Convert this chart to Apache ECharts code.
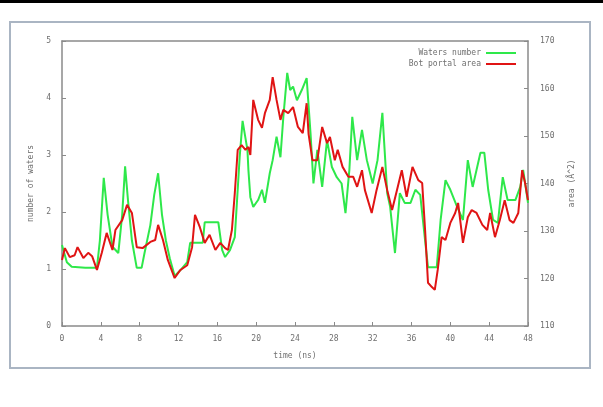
<!DOCTYPE html>
<html>
<head>
<meta charset="utf-8">
<script src="https://cdn.jsdelivr.net/npm/echarts@6/dist/echarts.min.js"></script>
<style>
  html, body { margin: 0; padding: 0; background: #fff; }
  #chart { width: 603px; height: 407px; }
</style>
</head>
<body>
<div id="chart"></div>
<script>
// time (ns) and number of waters
const greenTime = [0, 0.2, 0.5, 1.0, 2.4, 3.6, 3.9, 4.3, 4.7, 5.2, 5.8, 6.2, 6.5, 6.8, 7.2, 7.7, 8.2, 8.5, 9.1, 9.5, 9.9,
  10.3, 10.7, 11.1, 11.6, 12.2, 12.9, 13.2, 14.5, 14.7, 16.1, 16.5, 16.8, 17.3, 17.8, 18.3, 18.6, 19.1, 19.2, 19.4, 19.7,
  20.2, 20.6, 20.9, 21.4, 21.7, 22.1, 22.5, 22.8, 23.2, 23.5, 23.8, 24.2, 24.7, 25.2, 25.6, 25.9, 26.3, 26.8, 27.3, 27.8,
  28.3, 28.8, 29.2, 29.6, 29.9, 30.4, 30.9, 31.4, 32.0, 32.5, 33.0, 33.5, 33.8, 34.3, 34.8, 35.3, 35.9, 36.4, 36.9, 37.4,
  37.7, 38.6, 39.0, 39.5, 40.0, 40.7, 41.3, 41.8, 42.3, 43.1, 43.5, 43.9, 44.4, 44.9, 45.4, 45.9, 46.7, 47.2, 47.5, 48];
const greenWaters = [1.42, 1.30, 1.12, 1.04, 1.02, 1.02, 1.5, 2.6, 1.95, 1.39, 1.28, 1.95, 2.8, 2.2, 1.5, 1.02, 1.02, 1.28, 1.77, 2.3, 2.68,
  1.95, 1.5, 1.19, 0.88, 0.98, 1.12, 1.46, 1.46, 1.82, 1.82, 1.33, 1.21, 1.33, 1.56, 2.96, 3.6, 3.09, 2.74, 2.26, 2.09,
  2.21, 2.39, 2.16, 2.68, 2.91, 3.32, 2.96, 3.67, 4.44, 4.14, 4.2, 3.96, 4.14, 4.35, 3.38, 2.5, 3.09, 2.44, 3.26, 2.79,
  2.61, 2.5, 1.98, 2.74, 3.67, 2.91, 3.44, 2.91, 2.5, 2.91, 3.74, 2.33, 2.09, 1.28, 2.33, 2.16, 2.16, 2.39, 2.3, 1.5,
  1.03, 1.03, 1.86, 2.56, 2.39, 2.09, 1.86, 2.91, 2.44, 3.04, 3.04, 2.39, 1.86, 1.81, 2.61, 2.21, 2.21, 2.44, 2.74, 2.16];

// time (ns) and bottom portal area (A^2)
const redTime = [0, 0.3, 0.8, 1.3, 1.6, 2.2, 2.7, 3.1, 3.6, 4.1, 4.6, 5.2, 5.5, 6.2, 6.7, 7.2, 7.7, 8.3, 9.1, 9.6, 9.9,
  10.4, 10.9, 11.6, 12.2, 12.9, 13.4, 13.7, 14.2, 14.7, 15.2, 15.8, 16.3, 16.8, 17.1, 17.5, 17.8, 18.1, 18.5, 18.9, 19.2,
  19.4, 19.7, 20.2, 20.6, 20.9, 21.4, 21.7, 22.1, 22.5, 22.8, 23.3, 23.8, 24.3, 24.8, 25.2, 25.4, 25.8, 26.3, 26.8, 27.3,
  27.6, 28.1, 28.4, 28.9, 29.5, 30.0, 30.4, 30.9, 31.2, 31.9, 32.4, 33.0, 33.5, 34.0, 34.5, 35.0, 35.5, 36.1, 36.7, 37.1,
  37.4, 37.7, 38.1, 38.4, 38.7, 39.1, 39.5, 40.0, 40.5, 40.8, 41.3, 41.8, 42.2, 42.7, 43.3, 43.8, 44.1, 44.6, 45.1, 45.6,
  46.1, 46.5, 47.0, 47.4, 47.7, 48];
const redArea = [123.9, 126.4, 124.5, 124.9, 126.6, 124.3, 125.4, 124.7, 121.8, 125.4, 129.6, 126.0, 130.2, 132.3, 135.5, 133.8, 126.6, 126.4, 127.7, 128.1, 131.3,
  128.1, 123.9, 120.1, 121.8, 122.8, 126.6, 133.4, 130.8, 127.5, 129.2, 126.0, 127.5, 126.4, 126.0, 130.2, 138.0, 147.1, 148.1, 147.1, 147.7,
  146.0, 157.6, 153.4, 151.7, 154.8, 157.6, 162.4, 157.6, 153.4, 155.5, 154.8, 156.1, 151.9, 150.6, 156.9, 150.4, 144.9, 144.9, 151.9, 148.5,
  149.8, 144.9, 147.1, 143.5, 141.4, 141.4, 139.3, 142.8, 138.6, 133.8, 138.6, 143.5, 138.6, 134.4, 138.6, 142.8, 137.2, 143.5, 140.7, 140.1,
  130.2, 119.1, 118.2, 117.6, 121.8, 128.7, 128.1, 131.7, 133.8, 135.9, 127.5, 132.9, 134.4, 133.8, 131.3, 130.2, 133.8, 128.7, 132.3, 136.5,
  132.3, 131.7, 133.8, 142.8, 140.1, 136.5];

const leftTicks = [0, 5, 1];
const rightTicks = [110, 170, 10];
const timeTicks = [0, 48, 4];

const chart = echarts.init(document.getElementById('chart'), null, { renderer: 'canvas' });

const font = 'DejaVu Sans Mono';
const textGrey = '#6f6f6f';
const axisGrey = '#8a8a8a';

chart.setOption({
  animation: false,
  backgroundColor: '#fff',
  graphic: [
    { type: 'rect', shape: { x: 0, y: 0, width: 603, height: 3 }, style: { fill: '#000' } },
    { type: 'rect', shape: { x: 10, y: 22, width: 580, height: 346 }, style: { fill: 'none', stroke: '#aab5c3', lineWidth: 2 } },
  ],
  grid: { left: 62, right: 75, top: 41, bottom: 81 },
  legend: {
    orient: 'vertical',
    right: 82,
    top: 44,
    align: 'right',
    itemGap: 3,
    itemWidth: 30,
    itemHeight: 2,
    icon: 'rect',
    textStyle: { fontFamily: font, fontSize: 8, color: textGrey, padding: [0, 0, 0, 0] },
    data: ['Waters number', 'Bot portal area'],
  },
  xAxis: [
    {
      type: 'value',
      min: timeTicks[0],
      max: timeTicks[1],
      interval: timeTicks[2],
      name: 'time (ns)',
      nameLocation: 'middle',
      nameGap: 26,
      nameTextStyle: { fontFamily: font, fontSize: 8, color: textGrey },
      axisLine: { onZero: false, lineStyle: { color: axisGrey, width: 1.5 } },
      axisTick: { inside: true, length: 4, lineStyle: { color: axisGrey } },
      axisLabel: { fontFamily: font, fontSize: 8, color: textGrey, margin: 9 },
      splitLine: { show: false },
    },
    {
      type: 'value',
      position: 'top',
      min: timeTicks[0],
      max: timeTicks[1],
      interval: timeTicks[2],
      axisLine: { onZero: false, lineStyle: { color: axisGrey, width: 1.5 } },
      axisTick: { show: false },
      axisLabel: { show: false },
      splitLine: { show: false },
    },
  ],
  yAxis: [
    {
      type: 'value',
      min: leftTicks[0],
      max: leftTicks[1],
      interval: leftTicks[2],
      name: 'number of waters',
      nameLocation: 'middle',
      nameRotate: 90,
      nameGap: 26,
      nameTextStyle: { fontFamily: font, fontSize: 8, color: textGrey },
      axisLine: { show: true, onZero: false, lineStyle: { color: axisGrey, width: 1.5 } },
      axisTick: { show: true, inside: true, length: 4, lineStyle: { color: axisGrey } },
      axisLabel: { fontFamily: font, fontSize: 8, color: textGrey, margin: 11 },
      splitLine: { show: false },
    },
    {
      type: 'value',
      position: 'right',
      min: rightTicks[0],
      max: rightTicks[1],
      interval: rightTicks[2],
      name: 'area (Å^2)',
      nameLocation: 'middle',
      nameRotate: 90,
      nameGap: 40,
      nameTextStyle: { fontFamily: font, fontSize: 8, color: textGrey },
      axisLine: { show: true, onZero: false, lineStyle: { color: axisGrey, width: 1.5 } },
      axisTick: { show: true, inside: true, length: 4, lineStyle: { color: axisGrey } },
      axisLabel: { fontFamily: font, fontSize: 8, color: textGrey, margin: 12 },
      splitLine: { show: false },
    },
  ],
  series: [
    {
      name: 'Waters number',
      type: 'line',
      yAxisIndex: 0,
      showSymbol: false,
      data: greenTime.map((t, i) => [t, greenWaters[i]]),
      lineStyle: { color: '#2ee84a', width: 2 },
      itemStyle: { color: '#2ee84a' },
    },
    {
      name: 'Bot portal area',
      type: 'line',
      yAxisIndex: 1,
      showSymbol: false,
      data: redTime.map((t, i) => [t, redArea[i]]),
      lineStyle: { color: '#e01414', width: 2 },
      itemStyle: { color: '#e01414' },
    },
  ],
});
</script>
</body>
</html>
